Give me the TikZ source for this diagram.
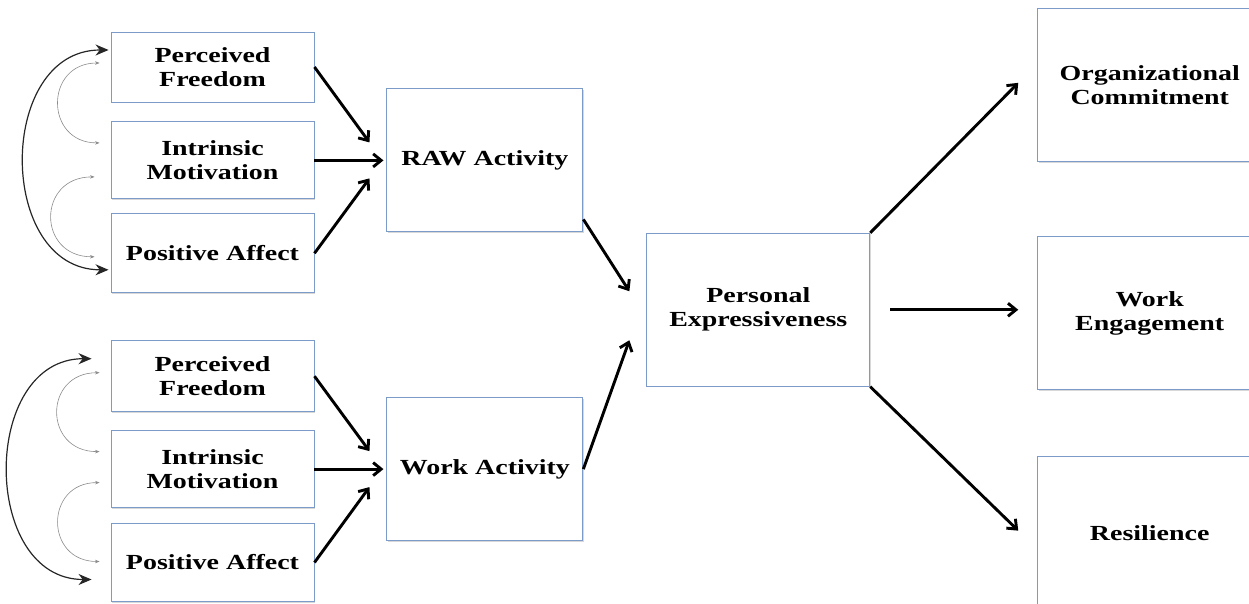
\documentclass[tikz,border=0pt]{standalone}
\usepackage{fontspec}
\setmainfont{Liberation Serif}[FakeStretch=1.3]
\usetikzlibrary{arrows.meta,calc,positioning,shadows}
\definecolor{boxblue}{RGB}{125,155,200}
\tikzset{>={Straight Barb[length=8pt,width=13pt]}, % open barbed heads for the paths
node distance=20pt, % default gap between boxes
box/.style={draw=boxblue, line width=0.9pt, fill=white, align=center, inner sep=0pt,
  font=\fontsize{21.5}{24}\selectfont\bfseries,
  drop shadow={shadow xshift=1.2pt, shadow yshift=-1.2pt, fill=black!30, opacity=0.5}}, % every box
small/.style={box, minimum width=203pt}, % predictor boxes on the left
mid/.style={box, minimum width=196pt, minimum height=143pt}, % activity boxes
big/.style={box, minimum width=224pt, minimum height=153pt}, % outcome boxes
link/.style={draw, ->, line width=2.9pt}, % structural paths
covar/.style={{Stealth[length=13pt,width=11pt]}-{Stealth[length=13pt,width=11pt]}, line width=1.2pt, black!85}, % outer correlations
covin/.style={{Stealth[length=4.5pt,width=3.5pt]}-{Stealth[length=4.5pt,width=3.5pt]}, line width=0.6pt, black!45}, % inner correlations
}

\begin{document}
\begin{tikzpicture}[x=1pt,y=-1pt]
\useasboundingbox (0,0) rectangle (1249,604);
% RAW predictors
\node[small, minimum height=70pt] (pf1) at (212.5,67) {Perceived\\Freedom};
\node[small, minimum height=77pt, below=19pt of pf1] (im1) {Intrinsic\\Motivation};
\node[small, minimum height=79pt, below=14pt of im1] (pa1) {Positive Affect};
% work predictors
\node[small, minimum height=71pt, below=47pt of pa1] (pf2) {Perceived\\Freedom};
\node[small, minimum height=77pt, below=18pt of pf2] (im2) {Intrinsic\\Motivation};
\node[small, minimum height=78pt, below=15pt of im2] (pa2) {Positive Affect};
% activities
\node[mid, right=72pt of im1] (raw) {RAW Activity};
\node[mid, right=72pt of im2] (work) {Work Activity};
\coordinate (m) at ($(raw.east)!0.5!(work.east)$);
\node[box, minimum width=223pt, minimum height=153pt, right=63pt of m, yshift=5pt] (pe) {Personal\\Expressiveness};
% outcomes
\node[big, right=167pt of pe, yshift=-3.5pt] (we) {Work\\Engagement};
\node[big, above=74pt of we] (oc) {Organizational\\Commitment};
\node[big, below=66pt of we] (res) {Resilience};

\path (pf1.east) edge[link] ([shift={(-17,-18)}]raw.west)
(im1.east) edge[link] ([xshift=-3pt]raw.west)
(pa1.east) edge[link] ([shift={(-17,18)}]raw.west)
(pf2.east) edge[link] ([shift={(-17,-18)}]work.west)
(im2.east) edge[link] ([xshift=-3pt]work.west)
(pa2.east) edge[link] ([shift={(-17,18)}]work.west)
([shift={(0,-13)}]raw.south east) edge[link] ([shift={(-17,-18.5)}]pe.west)
(work.east) edge[link] ([shift={(-17,30.5)}]pe.west)
(pe.north east) edge[link] ([shift={(-19,-2.5)}]oc.west)
([xshift=20pt]pe.east) edge[link] ([xshift=148pt]pe.east)
(pe.south east) edge[link] ([shift={(-19,-2.5)}]res.west);

\draw[covar] ([shift={(-2,-17)}]pf1.west) to[out=180,in=180,looseness=1.31] ([shift={(-2,16.5)}]pa1.west);
\draw[covin] ([shift={(-11,-4)}]pf1.west) to[out=180,in=180,looseness=1.77] ([shift={(-11,-17.5)}]im1.west);
\draw[covin] ([shift={(-16,16.5)}]im1.west) to[out=180,in=180,looseness=1.85] ([shift={(-16,3.5)}]pa1.west);
\draw[covar] ([shift={(-19,-17.5)}]pf2.west) to[out=180,in=180,looseness=1.29] ([shift={(-19,17)}]pa2.west);
\draw[covin] ([shift={(-11,-3.5)}]pf2.west) to[out=180,in=180,looseness=1.83] ([shift={(-11,-17.5)}]im2.west);
\draw[covin] ([shift={(-11,13.5)}]im2.west) to[out=180,in=180,looseness=1.79] ([shift={(-11,-1)}]pa2.west);
\end{tikzpicture}
\end{document}
